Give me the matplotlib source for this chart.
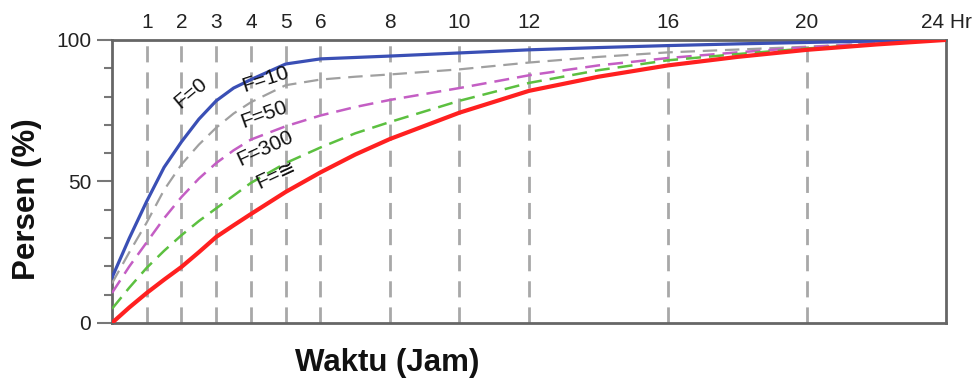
import matplotlib
matplotlib.use("Agg")
import matplotlib.pyplot as plt
from matplotlib.ticker import MultipleLocator

plt.rcParams['font.family'] = ['Liberation Sans', 'DejaVu Sans']

hours = [0, 0.5, 1, 1.5, 2, 2.5, 3, 3.5, 4, 5, 6, 7, 8, 10, 12, 14, 16, 18, 20, 22, 24]
f0    = [16, 30, 43, 55, 64, 72, 78.5, 83, 86, 91.5, 93.3, 93.8, 94.3, 95.4, 96.5, 97.3, 98, 98.6, 99.1, 99.6, 100]
f10   = [14, 25, 35.5, 47, 56, 63, 69, 74, 78, 84, 86, 87, 87.8, 89.6, 92, 94, 95.6, 96.6, 97.6, 98.8, 100]
f50   = [10.6, 20, 28.5, 37, 44.5, 51, 56.5, 61, 64.8, 69.5, 73.3, 76.3, 78.8, 83, 87.5, 91, 93.6, 95.6, 97.4, 98.8, 100]
f300  = [5, 12.5, 19.5, 25.5, 31, 36, 40.5, 45, 49.5, 56.5, 62, 67, 71, 78.5, 84.8, 89.3, 92.8, 95, 97, 98.5, 100]
finf  = [0, 5.5, 10.6, 15.3, 19.8, 25, 30.4, 34.5, 38.5, 46.3, 53.2, 59.5, 65, 74.3, 82, 87, 91, 94, 96.5, 98.4, 100]

top_ticks = [1, 2, 3, 4, 5, 6, 8, 10, 12, 16, 20, 24]
top_labels = ['1', '2', '3', '4', '5', '6', '8', '10', '12', '16', '20', '24 Hr']
grid_ticks = [1, 2, 3, 4, 5, 6, 8, 10, 12, 16, 20]

fig = plt.figure(figsize=(9.72, 3.82), dpi=100)
ax = fig.add_axes([0.1152, 0.1545, 0.858, 0.741])

for g in grid_ticks:
    ax.axvline(g, color='#a8a8a8', lw=2, dashes=(5.8, 3.6), zorder=1)

ax.plot(hours, f0, color='#3a4fb5', lw=2.3, zorder=5)
ax.plot(hours, f10, color='#a0a0a0', lw=1.6, dashes=(6.5, 3.5), zorder=4)
ax.plot(hours, f50, color='#c45ec4', lw=1.8, dashes=(6, 3.2), zorder=4)
ax.plot(hours, f300, color='#5cc040', lw=1.8, dashes=(6, 3.2), zorder=4)
ax.plot(hours, finf, color='#ff2020', lw=3, zorder=5)

ax.set_xlim(0, 24)
ax.set_ylim(0, 100)

ax.xaxis.tick_top()
ax.set_xticks(top_ticks)
ax.set_xticklabels(top_labels, fontsize=15, color='#222222')
ax.tick_params(axis='x', length=0, pad=6)

ax.set_yticks([0, 50, 100])
ax.set_yticklabels(['0', '50', '100'], fontsize=15, color='#222222')
ax.yaxis.set_minor_locator(MultipleLocator(10))
ax.tick_params(axis='y', which='major', length=11, width=1.5, color='#777777', pad=4)
ax.tick_params(axis='y', which='minor', length=6, width=1.5, color='#777777')

for s in ax.spines.values():
    s.set_color('#666666')
    s.set_linewidth(2)

lab = dict(fontsize=15, color='#111111', zorder=6, ha='center', va='center',
           family=['Liberation Sans', 'DejaVu Sans'])
ax.text(2.27, 81.3, 'F=0', rotation=40, **lab)
ax.text(4.43, 86.2, 'F=10', rotation=18, **lab)
ax.text(4.37, 73.7, 'F=50', rotation=20, **lab)
ax.text(4.4, 61.8, 'F=300', rotation=25, **lab)
ax.text(4.71, 52.3, 'F=\u2245', rotation=25, **lab)

fig.text(0.028, 0.479, 'Persen (%)', rotation=90, fontsize=22.5, fontweight='bold',
         ha='center', va='center', color='#111111')
fig.text(0.398, 0.05, 'Waktu (Jam)', fontsize=22.5, fontweight='bold',
         ha='center', va='center', color='#111111')

fig.savefig('out.png', dpi=100)
